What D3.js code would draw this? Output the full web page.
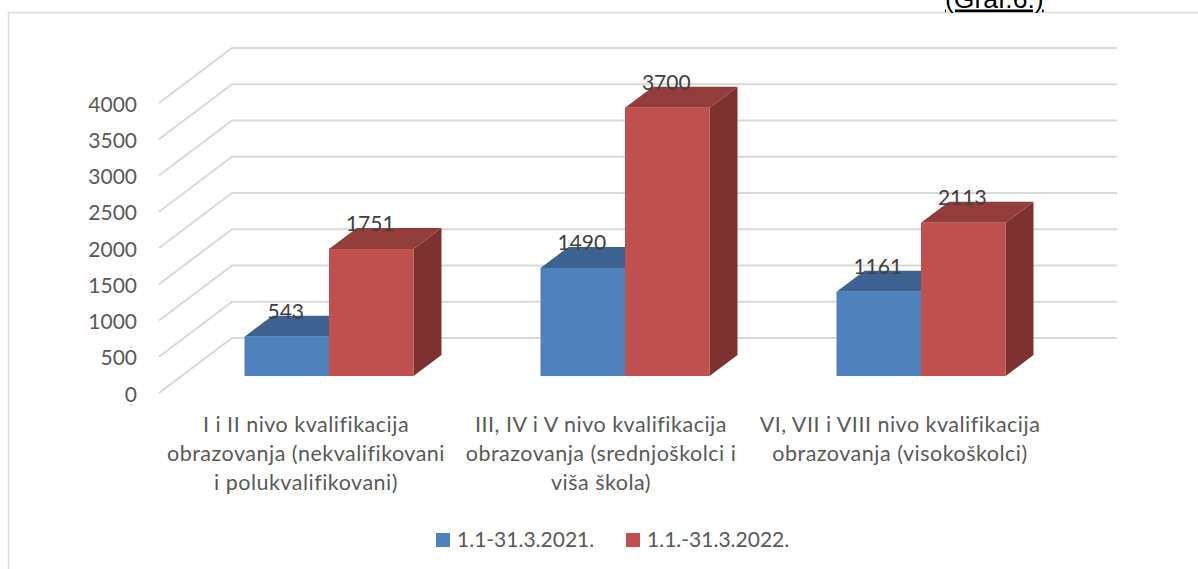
<!DOCTYPE html>
<html>
<head>
<meta charset="utf-8">
<script src="https://cdn.jsdelivr.net/npm/d3@7/dist/d3.min.js"></script>
<style>
html,body{margin:0;padding:0;background:#fff;overflow:hidden}
svg{display:block}
text{font-family:Lato,"Open Sans",sans-serif}
</style>
</head>
<body>
<svg id="chart" width="1198" height="569"></svg>
<script>
const categories = [
  ["I i II nivo kvalifikacija", "obrazovanja (nekvalifikovani", "i polukvalifikovani)"],
  ["III, IV i V nivo kvalifikacija", "obrazovanja (srednjoškolci i", "viša škola)"],
  ["VI, VII i VIII nivo kvalifikacija", "obrazovanja (visokoškolci)"]
];
const seriesNames = ["1.1-31.3.2021.", "1.1.-31.3.2022."];
const values2021 = [543, 1490, 1161];
const values2022 = [1751, 3700, 2113];
const yTicks = [0, 500, 1000, 1500, 2000, 2500, 3000, 3500, 4000];
const pageNote = "(Graf.6.)";

const colors = [
  {front:"#4f81bd", top:"#3d6290", side:"#335379"},
  {front:"#c0504d", top:"#933d3b", side:"#7d3230"}
];
const svg = d3.select("#chart");
const W = 1198;

// frame
svg.append("path").attr("d", `M8.5,569V12.5H${W}`).attr("fill","none").attr("stroke","#d9d9d9").attr("stroke-width",1.5);

// page note, cropped by the top of the picture
svg.append("text").attr("x",945).attr("y",7.5).attr("fill","#000")
  .style("font-family","'Liberation Sans',Arial,sans-serif").style("font-size","26.5px")
  .attr("text-decoration","underline").text(pageNote);

const y = d3.scaleLinear().domain([0,4000]).range([393,103]);
const wallDx = 73, wallDy = 55, wallRight = 1117;

// gridlines
const grid = svg.append("g");
yTicks.forEach(t=>{
  const py = y(t);
  grid.append("path")
    .attr("d",`M159,${py}L${159+wallDx},${py-wallDy}H${wallRight}`)
    .attr("fill","none").attr("stroke","#d9d9d9").attr("stroke-width",2);
});

// y axis
const axis = d3.axisLeft(y).tickValues(yTicks).tickSize(0).tickPadding(0).tickFormat(d3.format("d"));
const ag = svg.append("g").attr("transform","translate(137,1.5)").call(axis);
ag.select(".domain").remove();
ag.selectAll("text").attr("fill","#595959").style("font-family","Lato,sans-serif").style("font-size","21px");

// bars
const x0 = d3.scaleBand().domain(d3.range(categories.length)).range([181,1069]);
const barW = 84.5;
const x1 = d3.scaleBand().domain([0,1]).range([-barW, barW]);
const baseY = 376, dx = 28, dy = 21;
const h = d3.scaleLinear().domain([0,4000]).range([0,290]);
const series = [values2021, values2022];

const bars = svg.append("g");
const labels = [];
categories.forEach((c,i)=>{
  series.forEach((vals,s)=>{
    const cx = x0(i)+x0.bandwidth()/2;
    const xl = cx + x1(s), xr = xl + x1.bandwidth();
    const yt = baseY - h(vals[i]);
    const col = colors[s];
    bars.append("path").attr("fill",col.side)
      .attr("d",`M${xr},${yt}L${xr+dx},${yt-dy}V${baseY-dy}L${xr},${baseY}Z`);
    bars.append("path").attr("fill",col.top)
      .attr("d",`M${xl},${yt}L${xl+dx},${yt-dy}H${xr+dx}L${xr},${yt}Z`);
    bars.append("rect").attr("x",xl).attr("y",yt).attr("width",x1.bandwidth()).attr("height",h(vals[i])).attr("fill",col.front);
    labels.push({x:(xl+xr)/2, y:yt-25, v:vals[i]});
  });
});
svg.append("g").selectAll("text").data(labels).join("text")
  .attr("x",d=>d.x-1).attr("y",d=>d.y).attr("text-anchor","middle").attr("dy","0.35em")
  .attr("fill","#404040").style("font-size","21px").text(d=>d.v);

// category labels
const catCenters = [306,601,900];
const lineH = 29;
categories.forEach((lines,i)=>{
  const t = svg.append("text").attr("text-anchor","middle").attr("fill","#595959").style("font-size","21.5px").style("letter-spacing","0.5px");
  lines.forEach((ln,k)=>{
    t.append("tspan").attr("x",catCenters[i]).attr("y",424+k*lineH).attr("dy","0.35em").text(ln);
  });
});

// legend
const legX = [436,626];
seriesNames.forEach((n,i)=>{
  svg.append("rect").attr("x",legX[i]).attr("y",533).attr("width",14).attr("height",14).attr("fill",colors[i].front);
  svg.append("text").attr("x",legX[i]+21).attr("y",540).attr("dy","0.35em").attr("fill","#595959").style("font-size","21px").text(n);
});
</script>
</body>
</html>
